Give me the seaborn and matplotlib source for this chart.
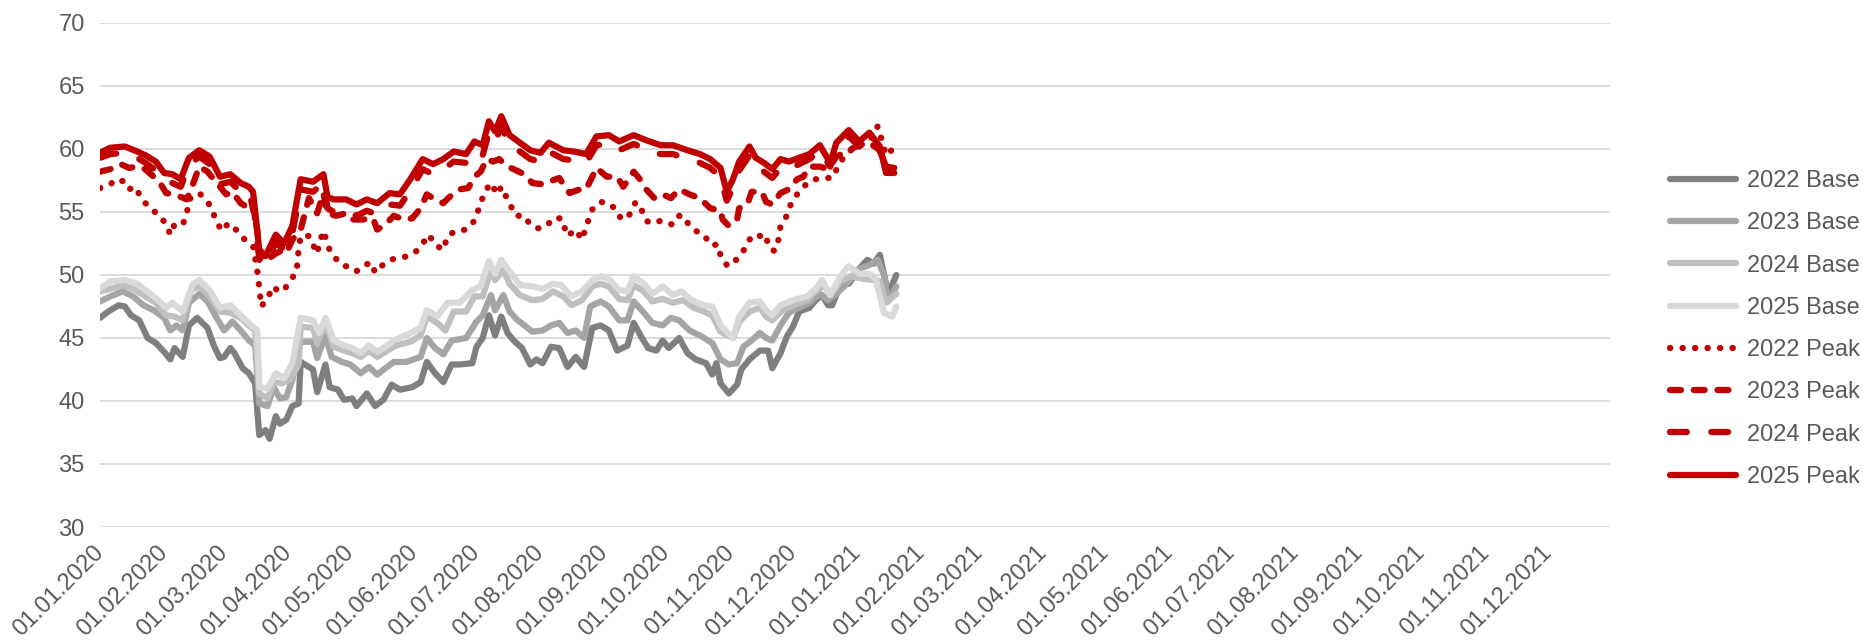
import matplotlib
matplotlib.use("Agg")
import numpy as np
import pandas as pd
import seaborn as sns
import matplotlib.pyplot as plt
import matplotlib.dates as mdates

START = pd.Timestamp("2020-01-01")

# day offsets from 01.01.2020 and prices
base22_days = [0, 4, 9, 12, 15, 19, 23, 27, 31, 34, 36, 40, 43, 47, 52, 55, 58, 60, 63, 65,
               69, 72, 75, 77, 80, 82, 85, 87, 90, 93, 96, 97, 103, 105, 109, 111, 115, 118, 122, 124,
               129, 133, 137, 141, 145, 151, 155, 158, 162, 166, 170, 174, 180, 182, 185, 188, 191, 194, 197, 200,
               204, 208, 211, 214, 218, 222, 226, 230, 234, 238, 242, 246, 250, 255, 258, 262, 265, 269, 272, 275,
               280, 284, 288, 293, 296, 298, 300, 304, 308, 310, 314, 319, 323, 325, 329, 332, 335, 338, 343, 346,
               349, 352, 354, 358, 362, 367, 371, 374, 377, 381, 385]
base22_vals = [46.6, 47.1, 47.6, 47.5, 46.8, 46.4, 45.0, 44.6, 43.9, 43.3, 44.2, 43.5, 46.0, 46.6, 45.8, 44.4, 43.4, 43.5, 44.2, 43.8,
               42.6, 42.2, 41.4, 37.3, 37.7, 37.0, 38.8, 38.2, 38.5, 39.6, 39.8, 43.1, 42.5, 40.7, 42.9, 41.1, 40.9, 40.1, 40.2, 39.6,
               40.6, 39.6, 40.1, 41.3, 40.9, 41.1, 41.5, 43.1, 42.2, 41.5, 42.9, 42.9, 43.0, 44.3, 45.0, 46.8, 45.2, 46.7, 45.4, 44.8,
               44.2, 42.9, 43.3, 43.0, 44.3, 44.2, 42.7, 43.5, 42.7, 45.8, 46.0, 45.6, 44.0, 44.4, 46.2, 45.0, 44.2, 44.0, 44.8, 44.2,
               45.0, 43.8, 43.3, 43.0, 42.1, 43.0, 41.4, 40.6, 41.3, 42.5, 43.3, 44.0, 44.0, 42.6, 43.8, 45.1, 45.9, 47.1, 47.4, 48.0,
               48.4, 47.6, 47.6, 49.3, 49.3, 50.5, 51.2, 50.9, 51.6, 48.5, 50.0]

base23_days = [0, 5, 11, 16, 21, 26, 31, 34, 37, 40, 43, 48, 52, 56, 60, 64, 68, 72, 75, 77,
               81, 84, 87, 90, 93, 97, 103, 105, 109, 112, 117, 121, 126, 130, 134, 138, 142, 148, 155, 158,
               162, 166, 170, 177, 182, 185, 189, 191, 195, 198, 202, 206, 209, 214, 218, 222, 226, 230, 234, 237,
               242, 246, 251, 255, 258, 263, 267, 272, 276, 280, 285, 290, 296, 300, 304, 308, 311, 315, 319, 322,
               325, 329, 333, 338, 343, 348, 352, 356, 361, 367, 372, 376, 379, 381, 385]
base23_vals = [47.9, 48.3, 48.7, 48.3, 47.6, 47.2, 46.6, 45.6, 46.0, 45.6, 47.8, 48.5, 47.9, 46.7, 45.6, 46.3, 45.6, 44.8, 44.4, 39.8,
               39.6, 41.1, 40.2, 40.3, 41.7, 44.7, 44.7, 43.4, 45.2, 43.5, 43.1, 42.9, 42.2, 42.7, 42.1, 42.6, 43.1, 43.1, 43.5, 45.0,
               44.2, 43.7, 44.8, 45.0, 46.3, 46.8, 48.4, 47.2, 48.4, 47.1, 46.4, 45.9, 45.5, 45.6, 46.0, 46.2, 45.4, 45.6, 45.0, 47.5,
               47.9, 47.5, 46.4, 46.4, 47.9, 47.0, 46.2, 46.0, 46.6, 46.4, 45.6, 45.2, 44.6, 43.3, 42.9, 43.0, 44.3, 44.8, 45.4, 45.0,
               44.8, 46.0, 47.0, 47.4, 47.8, 48.5, 48.0, 48.5, 49.3, 50.5, 50.8, 51.2, 50.0, 47.9, 49.1]

base24_days = [0, 5, 11, 16, 21, 27, 32, 36, 40, 44, 48, 53, 58, 63, 68, 72, 75, 77, 81, 84,
               88, 92, 96, 97, 103, 105, 109, 113, 118, 122, 126, 130, 134, 139, 143, 150, 155, 158, 163, 167,
               171, 177, 181, 185, 189, 191, 195, 198, 203, 209, 214, 219, 224, 228, 233, 238, 242, 246, 251, 255,
               258, 263, 267, 272, 277, 282, 287, 292, 296, 300, 306, 309, 314, 319, 322, 325, 330, 335, 342, 346,
               350, 353, 358, 363, 369, 374, 377, 380, 385]
base24_vals = [48.7, 48.9, 49.2, 48.9, 48.4, 47.8, 46.8, 46.7, 46.4, 48.8, 49.1, 48.3, 47.1, 47.0, 46.6, 46.0, 45.6, 40.6, 40.2, 41.5,
               41.4, 41.7, 42.9, 45.9, 45.8, 44.6, 46.2, 44.3, 44.0, 43.8, 43.5, 44.0, 43.5, 44.0, 44.4, 44.7, 45.2, 46.7, 46.2, 45.6,
               47.1, 47.1, 48.3, 48.3, 50.4, 49.6, 50.4, 49.3, 48.4, 48.0, 48.1, 48.7, 48.3, 47.6, 48.0, 49.1, 49.3, 49.1, 48.1, 48.0,
               49.2, 48.7, 47.9, 48.1, 47.8, 48.0, 47.4, 47.1, 46.8, 45.5, 45.0, 46.3, 47.1, 47.4, 46.7, 46.4, 47.2, 47.6, 48.0, 48.7,
               49.2, 48.4, 49.5, 49.9, 49.7, 49.6, 49.5, 47.8, 48.5]

base25_days = [0, 5, 12, 18, 26, 32, 35, 40, 45, 48, 53, 58, 63, 68, 73, 76, 77, 81, 85, 89,
               93, 97, 103, 106, 109, 113, 118, 122, 126, 130, 134, 138, 142, 150, 155, 158, 163, 168, 174, 180,
               184, 188, 191, 194, 198, 203, 209, 214, 219, 223, 228, 233, 238, 242, 246, 251, 255, 258, 263, 267,
               272, 277, 281, 286, 292, 296, 300, 306, 309, 314, 319, 322, 325, 329, 335, 342, 346, 349, 353, 358,
               362, 367, 372, 375, 379, 383, 385]
base25_vals = [48.9, 49.5, 49.6, 49.3, 48.3, 47.4, 47.8, 47.1, 49.3, 49.6, 48.8, 47.4, 47.6, 46.8, 46.0, 45.6, 41.1, 41.0, 42.2, 41.8,
               43.0, 46.6, 46.4, 45.4, 46.6, 44.8, 44.4, 44.2, 43.8, 44.4, 43.9, 44.3, 44.8, 45.4, 45.8, 47.2, 46.7, 47.8, 47.8, 48.8,
               49.1, 51.1, 50.1, 51.2, 50.3, 49.2, 49.1, 48.9, 49.3, 49.2, 48.3, 48.7, 49.6, 49.9, 49.7, 48.8, 48.7, 49.9, 49.3, 48.5,
               49.1, 48.4, 48.7, 48.0, 47.6, 47.5, 46.0, 45.0, 46.7, 47.8, 47.9, 47.2, 46.8, 47.6, 48.0, 48.3, 48.9, 49.6, 48.4, 49.9,
               50.7, 50.1, 50.1, 49.7, 47.0, 46.7, 47.5]

peak22_days = [0, 5, 8, 12, 14, 17, 19, 22, 25, 29, 32, 34, 36, 40, 42, 43, 48, 52, 54, 56,
               59, 62, 64, 68, 70, 74, 76, 77, 78, 81, 84, 86, 89, 92, 95, 96, 97, 101, 105, 106,
               108, 111, 114, 118, 120, 124, 127, 131, 133, 136, 140, 143, 149, 153, 156, 159, 162, 166, 168, 172,
               177, 181, 183, 186, 189, 192, 194, 197, 201, 205, 208, 212, 216, 219, 223, 226, 230, 233, 236, 238,
               242, 246, 250, 252, 256, 259, 262, 264, 267, 271, 274, 277, 280, 282, 285, 288, 292, 295, 299, 300,
               303, 306, 309, 312, 314, 316, 319, 322, 323, 326, 328, 329, 332, 333, 336, 339, 342, 346, 351, 354,
               358, 362, 367, 372, 376, 380, 384]
peak22_vals = [56.9, 57.2, 57.6, 57.4, 56.8, 57.0, 56.4, 55.7, 55.2, 54.7, 54.0, 53.2, 54.0, 54.0, 54.9, 56.0, 56.5, 55.8, 55.3, 54.3,
               53.5, 54.1, 53.9, 53.2, 52.8, 52.3, 50.4, 49.0, 47.5, 48.2, 49.1, 48.7, 48.8, 49.6, 50.2, 52.0, 53.1, 53.1, 51.7, 52.5,
               53.5, 52.0, 51.3, 50.7, 50.7, 50.3, 50.7, 51.0, 50.2, 50.7, 51.2, 51.3, 51.5, 51.9, 52.5, 53.2, 52.4, 52.0, 53.1, 53.5,
               53.6, 54.3, 55.2, 56.6, 57.3, 56.4, 57.0, 56.0, 54.7, 54.7, 54.0, 53.7, 53.9, 54.5, 54.5, 53.1, 53.6, 52.8, 54.3, 55.2,
               55.8, 55.7, 55.1, 54.4, 54.8, 55.8, 55.1, 54.3, 54.1, 54.3, 54.1, 54.0, 54.7, 54.7, 53.9, 53.5, 53.2, 52.4, 52.4, 51.5,
               50.8, 50.8, 51.6, 52.1, 52.8, 53.2, 53.1, 53.2, 52.3, 51.9, 52.8, 53.9, 54.7, 55.3, 56.2, 56.8, 57.3, 57.6, 57.7, 57.7,
               59.0, 59.8, 60.3, 60.6, 61.8, 59.5, 60.1]

peak23_days = [0, 5, 10, 14, 18, 21, 26, 29, 32, 35, 39, 42, 44, 48, 52, 55, 58, 61, 64, 68,
               71, 73, 76, 77, 80, 84, 87, 90, 93, 97, 101, 105, 108, 110, 114, 119, 122, 127, 132, 134,
               138, 142, 147, 151, 155, 158, 162, 166, 169, 174, 178, 181, 184, 187, 190, 193, 197, 200, 205, 209,
               214, 217, 222, 227, 232, 235, 238, 240, 245, 250, 253, 258, 261, 264, 268, 272, 276, 280, 285, 290,
               295, 300, 301, 304, 308, 309, 313, 315, 320, 322, 325, 329, 333, 337, 340, 343, 348, 352, 356, 362,
               367, 372, 377, 380, 384]
peak23_vals = [58.2, 58.4, 58.8, 58.5, 58.6, 58.5, 57.8, 57.3, 56.5, 56.4, 56.2, 56.0, 56.8, 58.6, 58.2, 57.6, 57.0, 56.4, 56.6, 55.7,
               55.4, 56.0, 53.6, 51.5, 51.1, 51.6, 51.9, 51.7, 52.8, 53.6, 56.1, 54.9, 56.5, 54.9, 54.7, 54.9, 54.4, 54.4, 54.5, 53.6,
               54.0, 54.7, 54.4, 54.5, 55.3, 56.4, 56.0, 55.7, 56.2, 56.8, 56.9, 57.8, 58.2, 59.2, 59.0, 59.2, 58.6, 58.4, 58.0, 57.3,
               57.2, 57.4, 57.7, 56.5, 56.8, 56.8, 57.8, 58.5, 57.8, 57.8, 57.0, 58.2, 57.6, 56.8, 56.1, 56.4, 56.1, 56.8, 56.4, 56.1,
               55.3, 55.1, 54.4, 53.9, 54.4, 55.3, 55.6, 56.6, 56.6, 55.8, 55.6, 56.5, 56.8, 57.6, 57.8, 58.6, 58.6, 58.4, 59.4, 59.9,
               60.3, 60.5, 59.9, 58.6, 58.5]

peak_days = [0, 5, 12, 18, 22, 27, 31, 35, 39, 43, 48, 53, 58, 63, 68, 72, 74, 77, 80, 85,
             89, 93, 97, 103, 108, 110, 113, 119, 124, 129, 134, 140, 145, 150, 156, 161, 166, 171, 177, 181,
             185, 188, 191, 194, 198, 203, 208, 213, 217, 224, 229, 235, 240, 246, 251, 258, 264, 271, 277, 284,
             290, 295, 300, 303, 306, 309, 314, 317, 321, 325, 329, 333, 338, 343, 348, 353, 356, 362, 367, 372,
             377, 380, 384]
peak24_vals = [59.3, 59.6, 59.7, 59.3, 58.9, 58.3, 57.6, 57.3, 57.0, 58.7, 59.4, 58.8, 57.2, 57.4, 56.6, 56.3, 56.0, 51.2, 50.8, 52.6,
               52.0, 53.3, 56.8, 56.6, 57.3, 55.3, 55.0, 55.1, 54.7, 55.1, 54.8, 55.6, 55.5, 56.7, 58.4, 58.0, 58.4, 59.0, 58.9, 59.8,
               59.5, 61.3, 60.6, 61.8, 60.3, 59.8, 59.2, 59.0, 59.8, 59.2, 59.1, 58.9, 60.3, 60.4, 59.9, 60.4, 60.0, 59.6, 59.6, 59.2,
               58.9, 58.5, 57.8, 55.9, 56.9, 58.3, 59.5, 58.6, 58.2, 57.7, 58.5, 58.4, 58.8, 59.2, 59.9, 58.6, 60.1, 61.0, 60.2, 60.9,
               59.9, 58.6, 58.4]
peak25_vals = [59.7, 60.1, 60.2, 59.8, 59.5, 59.0, 58.1, 58.0, 57.6, 59.3, 59.9, 59.4, 57.8, 58.0, 57.3, 57.0, 56.6, 52.0, 51.5, 53.2,
               52.5, 53.9, 57.6, 57.4, 58.0, 56.2, 56.0, 56.0, 55.6, 56.0, 55.7, 56.5, 56.4, 57.6, 59.2, 58.8, 59.2, 59.8, 59.6, 60.6,
               60.3, 62.2, 61.4, 62.6, 61.1, 60.5, 59.9, 59.7, 60.5, 59.9, 59.8, 59.6, 61.0, 61.1, 60.6, 61.1, 60.7, 60.3, 60.3, 59.9,
               59.6, 59.2, 58.5, 56.6, 57.6, 59.0, 60.2, 59.3, 58.9, 58.4, 59.2, 59.0, 59.3, 59.6, 60.3, 58.9, 60.5, 61.5, 60.6, 61.3,
               60.2, 58.1, 58.1]

GREY = ["#7f7f7f", "#a5a5a5", "#bfbfbf", "#d9d9d9"]
RED = "#c00000"
TEXT = "#595959"

sns.set_style("white")
plt.rcParams["font.family"] = ["Liberation Sans", "DejaVu Sans"]

fig = plt.figure(figsize=(18.63, 6.4), dpi=100)
ax = fig.add_axes([100 / 1863, 1 - 527 / 640, 1510 / 1863, 504 / 640])


def to_dates(days):
    return START + pd.to_timedelta(days, unit="D")


series = [
    ("2022 Base", base22_days, base22_vals, GREY[0], "-"),
    ("2023 Base", base23_days, base23_vals, GREY[1], "-"),
    ("2024 Base", base24_days, base24_vals, GREY[2], "-"),
    ("2025 Base", base25_days, base25_vals, GREY[3], "-"),
    ("2022 Peak", peak22_days, peak22_vals, RED, (0, (0.05, 1.95))),
    ("2023 Peak", peak23_days, peak23_vals, RED, (0, (1.75, 2.05))),
    ("2024 Peak", peak_days, peak24_vals, RED, (0, (2.7, 3.9))),
    ("2025 Peak", peak_days, peak25_vals, RED, "-"),
]

for name, days, vals, col, ls in series:
    sns.lineplot(
        x=to_dates(days),
        y=vals,
        ax=ax,
        color=col,
        linestyle=ls,
        linewidth=4.5,
        solid_capstyle="round",
        dash_capstyle="round",
        solid_joinstyle="round",
        estimator=None,
        label=name,
    )

ax.set_xlim(START, pd.Timestamp("2021-12-31"))
ax.set_ylim(30, 70)
ax.set_yticks(np.arange(30, 71, 5))
ax.xaxis.set_major_locator(mdates.MonthLocator())
ax.xaxis.set_major_formatter(mdates.DateFormatter("%d.%m.%Y"))
ax.set(xlabel="", ylabel="")

ax.grid(axis="y", color="#d9d9d9", linewidth=1.3)
ax.grid(axis="x", visible=False)
ax.set_axisbelow(True)
sns.despine(ax=ax, left=True, bottom=True)

ax.tick_params(axis="y", length=0, pad=11, labelsize=17, labelcolor=TEXT)
ax.tick_params(axis="x", length=0, pad=16, labelsize=17, labelcolor=TEXT)
for lab in ax.get_xticklabels():
    lab.set_rotation(45)
    lab.set_ha("right")
    lab.set_va("center")
    lab.set_rotation_mode("anchor")

handles, labels = ax.get_legend_handles_labels()
leg = ax.legend(
    handles, labels,
    loc="center left",
    bbox_to_anchor=(1670 / 1863, 1 - 329 / 640),
    bbox_transform=fig.transFigure,
    frameon=False,
    fontsize=17,
    handlelength=2.8,
    handletextpad=0.45,
    labelspacing=0.86,
    borderpad=0,
    borderaxespad=0,
)
for t in leg.get_texts():
    t.set_color(TEXT)

fig.savefig("out.png", dpi=100)
